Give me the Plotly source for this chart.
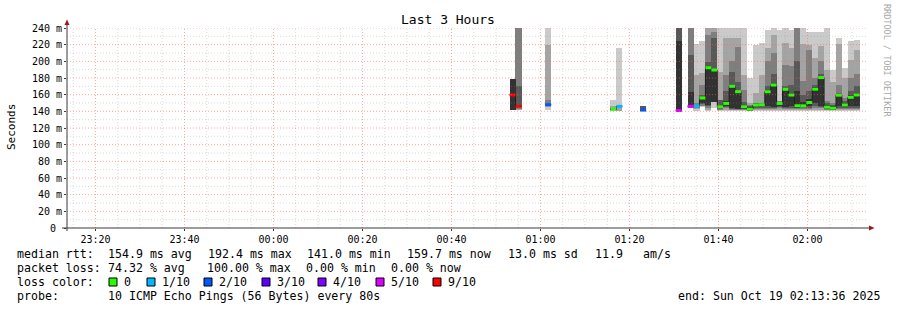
import plotly.graph_objects as go
from datetime import datetime, timedelta

# ---------------- data ----------------
TITLE = "Last 3 Hours"
Y_TITLE = "Seconds"
WATERMARK = "RRDTOOL / TOBI OETIKER"
START = datetime(2025, 10, 18, 23, 13, 36)
END = datetime(2025, 10, 19, 2, 13, 36)
LAST_BIN_END = datetime(2025, 10, 19, 2, 11, 44)
STEP_S = 80          # probe interval (s)
OFF = 999            # off-scale value (drawn to the top of the graph)
N = None

# number of 80 s bins before the last bin
bins_ago = [58, 57, 52, 41, 40, 36, 30, 28, 27, 26, 25, 24, 23, 22, 21, 20, 19, 18,
            17, 16, 15, 14, 13, 12, 11, 10, 9, 8, 7, 6, 5, 4, 3, 2, 1, 0]
# lost pings out of 10
loss = [9, 9, 2, 0, 1, 2, 5, 5, 1, 0, 0, 0, 0, 0, 0, 0, 0, 0,
        0, 0, 0, 0, 0, 0, 0, 0, 0, 0, 0, 0, 0, 0, 0, 0, 0, 0]
# median rtt (ms)
median = [159.6, 146, 148, 142.5, 146, 141.5, 141.0, 146, 146.5, 156, 192.4, 189.6,
          145.5, 149.5, 170, 163.6, 145.5, 142.5, 147.5, 148, 163.5, 171.6, 149.5, 166.4,
          159.6, 146.7, 146.6, 150.6, 166.6, 180.5, 145, 143.8, 159.4, 147.6, 156.8, 159.7]
# sorted ping rtts (ms), p1 = fastest ... p10 = slowest
p1 = [N, N, 141.5, 141, 141, N, N, N, 141, 145, 141, 143.5, 141, 141, 141, 141, 141, 140,
      141, 141, 141, 141, 141, 141, 141, 141, 141, 141, 141, 141, 141, 141, 141, 141, 141, 141]
p2 = [N, 141.5, 145, 141.5, 141, N, N, N, 143, 146, 142, 151, 141.5, 142, 141.5, 141.5, 141.5, 140.4,
      142, 142, 142, 142, 142, 142, 142, 142, 142, 142, 142, 142, 141.5, 141.2, 142, 142, 142, 142]
p3 = [N, 143, 146, 142, N, N, N, 144, 144, 147, 144, 151.2, 142, 144, 142, 142, 142, 140.6,
      143, 143, 143, 143, 144, 143, 143, 143, 143, 143, 144, 144, 142, 141.5, 143, 143, 143, 143]
p4 = [N, 145, N, 142, N, 141, 141, 145, N, 149, 146, 151.4, 143, 145, 143, 142.5, 142.5, 140.8,
      144, 144, 144, 144, 145, 144, 144, 144, 144, 144, 146, 145, 142.5, 141.8, 144, 144, 144, 144]
p5 = [141.6, N, N, 142.3, N, N, 141, 145, N, 150, 148, 151.6, 144, 146, 143.6, 143, 143, 141,
      145, 146, 146, 145.6, 146, 145, 146, 144.5, 145, 146, 149.6, 147, 143, 142, 146, 145, 146, 146]
p6 = [178.8, N, N, 142.7, N, N, 224, 163.6, N, 157, 195, 190, 148, 152, 172, 165, 148, 145,
      149, 149.5, 166, 174, 151, 168, 162, 165, 151, 155, 169.6, 183, 148, 146, 161, 150, 160, 162]
p7 = [N, 170, N, 143, N, 146.4, OFF, 207.6, N, 160, 199.6, 227.6, 153.6, 165, 187.6, 175, 151.6, 146.4,
      149.5, 150, 170, 185, 151.6, 170, 172, 200, 160, 165, 172, 185, 150, 148, 162, 152, 165, 170]
p8 = [N, OFF, 153.6, 143.5, N, N, N, OFF, 150, 172, 231.6, 235, 154, 183.6, 200, 217.6, 165.6, 148,
      150, 150.5, 200, 210, 152, 196, 195, OFF, 176.8, 213.6, 180, 200, 152, 150, 171.6, 155.6, 180, 185]
p9 = [N, OFF, 220, 146.4, 145, N, N, N, 183.6, 186, 240, OFF, 187.6, 227.6, 227.6, 227.6, 183.6, 150,
      161.6, 183.6, 215.6, 231.6, 153, 222, 215.6, OFF, 220.8, 219.6, 203.6, 218, 190, 175.6, 220.4, 179.6, 201.6, 213.6]
p10 = [N, N, OFF, 153.6, 216, N, N, N, 221, 224, OFF, OFF, OFF, OFF, OFF, OFF, OFF, 179.6,
       219.6, 222, 237.6, OFF, 238, OFF, 237.6, OFF, OFF, 235.6, 235.6, 235, OFF, 189.6, 227.6, 191.6, 225, 225.6]

loss_levels = [0, 1, 2, 3, 4, 5, 9]
loss_labels = ["0", "1/10", "2/10", "3/10", "4/10", "5/10", "9/10"]
loss_colors = ["#26ff00", "#00b8ff", "#0059ff", "#5e00ff", "#7e00ff", "#dd00ff", "#ff0000"]
smoke_colors = ["#cacaca", "#a4a4a4", "#7e7e7e", "#585858", "#323232"]

y_tickvals = [0, 20, 40, 60, 80, 100, 120, 140, 160, 180, 200, 220, 240]
y_ticktext = ["0\u00a0", "20 m", "40 m", "60 m", "80 m", "100 m", "120 m", "140 m",
              "160 m", "180 m", "200 m", "220 m", "240 m"]
x_ticktext = ["23:20", "23:40", "00:00", "00:20", "00:40", "01:00", "01:20", "01:40", "02:00"]
x_tickvals = [datetime(2025, 10, 18, 23, 20), datetime(2025, 10, 18, 23, 40),
              datetime(2025, 10, 19, 0, 0), datetime(2025, 10, 19, 0, 20),
              datetime(2025, 10, 19, 0, 40), datetime(2025, 10, 19, 1, 0),
              datetime(2025, 10, 19, 1, 20), datetime(2025, 10, 19, 1, 40),
              datetime(2025, 10, 19, 2, 0)]

stats_rtt = [("median rtt:", 16), ("154.9 ms avg", 107), ("192.4 ms max", 207),
             ("141.0 ms min", 306), ("159.7 ms now", 406), ("13.0 ms sd", 507),
             ("11.9", 594), ("am/s", 642)]
stats_loss = [("packet loss:", 16), ("74.32 % avg", 107), ("100.00 % max", 206),
              ("0.00 % min", 305), ("0.00 % now", 390)]
probe_text = "10 ICMP Echo Pings (56 Bytes) every 80s"
end_text = "end: Sun Oct 19 02:13:36 2025"

# ---------------- geometry / style ----------------
W, H = 897, 310
L, R, T, B = 67, 868, 28, 228
FONT = "DejaVu Sans Mono"
GRID_MINOR = "rgba(143,143,143,0.33)"
GRID_MAJOR = "rgba(255,95,95,0.55)"
AXIS = "#3a3a3a"
ARROW = "#a01414"
TXT = 11.6


def px(xp):
    return (xp - L) / (R - L)


def py(yp):
    return (B - yp) / (B - T)


bin_end = [LAST_BIN_END - timedelta(seconds=STEP_S * k) for k in bins_ago]
bin_start = [e - timedelta(seconds=STEP_S) for e in bin_end]
bin_mid = [e - timedelta(seconds=STEP_S / 2) for e in bin_end]

pings = [p1, p2, p3, p4, p5, p6, p7, p8, p9, p10]

fig = go.Figure()

# smoke layers: layer i spans ping i .. ping (11-i)
for i in range(5):
    lo, hi = pings[i], pings[9 - i]
    xs, bases, hs = [], [], []
    for j in range(len(bins_ago)):
        if lo[j] is None or hi[j] is None:
            continue
        xs.append(bin_mid[j])
        bases.append(lo[j])
        hs.append(hi[j] - lo[j])
    fig.add_trace(go.Bar(x=xs, y=hs, base=bases, width=STEP_S * 1000 * 1.04,
                         marker=dict(color=smoke_colors[i], line=dict(width=0)),
                         showlegend=False, hoverinfo="skip"))

# thin dark median line (connects consecutive bins)
mx, my = [], []
for j in range(len(bins_ago)):
    if j > 0 and bins_ago[j - 1] - bins_ago[j] != 1:
        mx.append(None)
        my.append(None)
    mx += [bin_start[j], bin_end[j]]
    my += [median[j], median[j]]
fig.add_trace(go.Scatter(x=mx, y=my, mode="lines", line=dict(color="#202020", width=1),
                         connectgaps=False, showlegend=False, hoverinfo="skip"))

# loss-coloured median segments
for lvl, col in zip(loss_levels, loss_colors):
    sx, sy = [], []
    for j in range(len(bins_ago)):
        if loss[j] == lvl:
            sx += [bin_start[j], bin_end[j], None]
            sy += [median[j], median[j], None]
    if sx:
        fig.add_trace(go.Scatter(x=sx, y=sy, mode="lines", line=dict(color=col, width=3),
                                 connectgaps=False, showlegend=False, hoverinfo="skip"))

shapes = []
# grid (drawn above the smoke, like rrdtool)
t = START.replace(minute=15, second=0)
while t <= END:
    major = (t.minute % 20 == 0)
    shapes.append(dict(type="line", xref="x", yref="paper", x0=t, x1=t, y0=0, y1=1,
                       layer="above",
                       line=dict(color=GRID_MAJOR if major else GRID_MINOR, width=1, dash="1px,2px")))
    t += timedelta(minutes=5)
for v in range(10, 241, 10):
    major = (v % 20 == 0)
    shapes.append(dict(type="line", xref="paper", yref="y", x0=0, x1=1, y0=v, y1=v,
                       layer="above",
                       line=dict(color=GRID_MAJOR if major else GRID_MINOR, width=1, dash="1px,2px")))
# axes
shapes.append(dict(type="line", xref="paper", yref="paper", x0=px(62), x1=px(871), y0=0, y1=0,
                   layer="above", line=dict(color=AXIS, width=1)))
shapes.append(dict(type="line", xref="paper", yref="paper", x0=0, x1=0, y0=py(231), y1=py(24),
                   layer="above", line=dict(color=AXIS, width=1)))
# arrows
shapes.append(dict(type="path", xref="paper", yref="paper", layer="above",
                   path=f"M {px(64.5)} {py(25)} L {px(69.5)} {py(25)} L {px(67)} {py(19.5)} Z",
                   fillcolor=ARROW, line=dict(color=ARROW, width=0)))
shapes.append(dict(type="path", xref="paper", yref="paper", layer="above",
                   path=f"M {px(869)} {py(225.5)} L {px(869)} {py(230.5)} L {px(874.5)} {py(228)} Z",
                   fillcolor=ARROW, line=dict(color=ARROW, width=0)))

annotations = []


def text(s, x, y, size=TXT, anchor="left", color="#000", angle=0):
    annotations.append(dict(text=s, x=px(x), y=py(y), xref="paper", yref="paper",
                            xanchor=anchor, yanchor="middle", showarrow=False,
                            textangle=angle, borderpad=0,
                            font=dict(family=FONT, size=size, color=color)))


text(TITLE, 448, 19, size=13, anchor="center")
text(Y_TITLE, 11, 127, size=11, anchor="center", angle=-90)
text(WATERMARK, 887, 60, size=8.5, anchor="center", color="#a8a8a8", angle=90)

for s, x in stats_rtt:
    text(s, x, 254)
for s, x in stats_loss:
    text(s, x, 268)
text("loss color:", 16, 282)
sq_x = [109, 147, 204, 262, 318, 376, 433]
for (lab, col, x0) in zip(loss_labels, loss_colors, sq_x):
    shapes.append(dict(type="rect", xref="paper", yref="paper",
                       x0=px(x0), x1=px(x0 + 8), y0=py(286), y1=py(278),
                       fillcolor=col, line=dict(color="#000", width=1)))
    text(lab, x0 + 14, 282)
text("probe:", 16, 296)
text(probe_text, 107, 296)
text(end_text, 881, 296, anchor="right")

fig.update_layout(
    width=W, height=H,
    margin=dict(l=L, r=W - R, t=T, b=H - B, pad=0),
    paper_bgcolor="white", plot_bgcolor="white",
    barmode="overlay", bargap=0,
    showlegend=False,
    shapes=shapes, annotations=annotations,
    font=dict(family=FONT, size=10, color="#000"),
    xaxis=dict(type="date", range=[START, END], tickvals=x_tickvals, ticktext=x_ticktext,
               showgrid=False, zeroline=False, showline=False, ticks="outside", ticklen=2,
               tickcolor=AXIS, tickfont=dict(family=FONT, size=10, color="#000"), fixedrange=True),
    yaxis=dict(range=[0, 240], tickvals=y_tickvals, ticktext=y_ticktext,
               showgrid=False, zeroline=False, showline=False, ticks="outside", ticklen=2,
               tickcolor=AXIS, tickfont=dict(family=FONT, size=10, color="#000"), fixedrange=True),
)

fig.write_html("out.html", config={"displayModeBar": False},
               post_script="document.body.style.margin='0';document.body.style.overflow='hidden';")
